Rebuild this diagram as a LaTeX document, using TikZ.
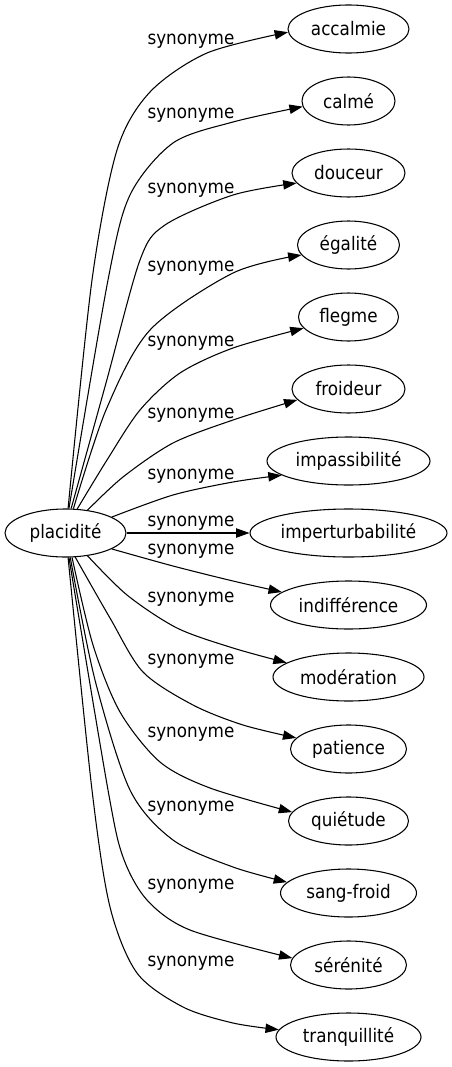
\documentclass[tikz,border=0pt]{standalone}
\usepackage{fontspec}
\setmainfont{DejaVu Sans Condensed}
\usetikzlibrary{arrows.meta,shapes.geometric}

\begin{document}
\begin{tikzpicture}[x=0.75pt,y=-0.75pt]
\useasboundingbox (0,0) rectangle (452,1067);
\tikzstyle{wnode}=[draw, ellipse, inner sep=0pt, minimum height=36pt,
  line width=0.8pt, font=\fontsize{14pt}{16pt}\selectfont]
\tikzstyle{wlabel}=[inner sep=0pt, font=\fontsize{14pt}{16pt}\selectfont]
\tikzstyle{warrow}=[-{Triangle[length=10pt,width=7pt]}, line width=0.8pt]
% the word and its synonyms
\node[wnode, minimum width=90.75pt] (pl) at (65.5,533) {placidité};
\node[wnode, minimum width=90.75pt] (acc) at (348.5,29) {accalmie};
\node[wnode, minimum width=69.75pt] (cal) at (348.5,101) {calmé};
\node[wnode, minimum width=84.75pt] (dou) at (348.5,173) {douceur};
\node[wnode, minimum width=76.5pt] (ega) at (348.5,245) {égalité};
\node[wnode, minimum width=75pt] (fle) at (348.5,317) {flegme};
\node[wnode, minimum width=84.75pt] (fro) at (348.5,389) {froideur};
\node[wnode, minimum width=122.25pt] (imp) at (348.5,461) {impassibilité};
\node[wnode, minimum width=147.75pt] (imt) at (348.5,533) {imperturbabilité};
\node[wnode, minimum width=117pt] (ind) at (348.5,605) {indifférence};
\node[wnode, minimum width=113.25pt] (mod) at (348.5,677) {modération};
\node[wnode, minimum width=87pt] (pat) at (348.5,749) {patience};
\node[wnode, minimum width=90pt] (qui) at (348.5,821) {quiétude};
\node[wnode, minimum width=102pt] (san) at (348.5,893) {sang-froid};
\node[wnode, minimum width=87pt] (ser) at (348.5,965) {sérénité};
\node[wnode, minimum width=108.75pt] (tra) at (348.5,1037) {tranquillité};
% edge labels
\node[wlabel] (l1) at (191,41) {synonyme};
\node[wlabel] (l2) at (191,115) {synonyme};
\node[wlabel] (l3) at (191,190) {synonyme};
\node[wlabel] (l4) at (191,268) {synonyme};
\node[wlabel] (l5) at (191,343) {synonyme};
\node[wlabel] (l6) at (191,415) {synonyme};
\node[wlabel] (l7) at (191,476) {synonyme};
\node[wlabel] (l8) at (191,523) {synonyme};
\node[wlabel] (l9) at (191,551) {synonyme};
\node[wlabel] (l10) at (191,599) {synonyme};
\node[wlabel] (l11) at (191,661) {synonyme};
\node[wlabel] (l12) at (191,734) {synonyme};
\node[wlabel] (l13) at (191,808) {synonyme};
\node[wlabel] (l14) at (191,886) {synonyme};
\node[wlabel] (l15) at (191,963) {synonyme};
% edges
\draw[warrow] plot[smooth] coordinates {(pl.84) (92,280) (117,150) (150,92) (207,53) (acc.183)};
\draw[warrow] plot[smooth] coordinates {(pl.82) (108,280) (130,195) (173,143) (233,122) (cal.187)};
\draw[warrow] plot[smooth] coordinates {(pl.77) (106,383) (140,260) (165,225) (233,195) (dou.191)};
\draw[warrow] plot[smooth] coordinates {(pl.72) (106,410) (150,330) (233,273) (ega.192)};
\draw[warrow] plot[smooth] coordinates {(pl.64) (107,460) (140,410) (180,373) (233,348) (fle.194)};
\draw[warrow] plot[smooth] coordinates {(pl.46) (123,477) (173,443) (233,420) (fro.192)};
\draw[warrow] plot[smooth] coordinates {(pl.19) (173,495) (233,482) (imp.192)};
\draw[warrow] (pl) -- (imt);
\draw[warrow] plot[smooth] coordinates {(pl.341) (173,566) (233,581) (ind.169)};
\draw[warrow] plot[smooth] coordinates {(pl.314) (127,595) (177,628) (233,648) (mod.167)};
\draw[warrow] plot[smooth] coordinates {(pl.292) (110,618) (143,672) (193,705) (243,725) (pat.168)};
\draw[warrow] plot[smooth] coordinates {(pl.285) (93,645) (120,712) (160,762) (210,788) (qui.171)};
\draw[warrow] plot[smooth] coordinates {(pl.281) (95,680) (130,790) (173,840) (233,867) (san.170)};
\draw[warrow] plot[smooth] coordinates {(pl.278) (108,790) (123,857) (147,900) (190,930) (ser.173)};
\draw[warrow] plot[smooth] coordinates {(pl.276) (92,790) (110,907) (137,973) (183,1007) (233,1023) (tra.174)};
\end{tikzpicture}
\end{document}
